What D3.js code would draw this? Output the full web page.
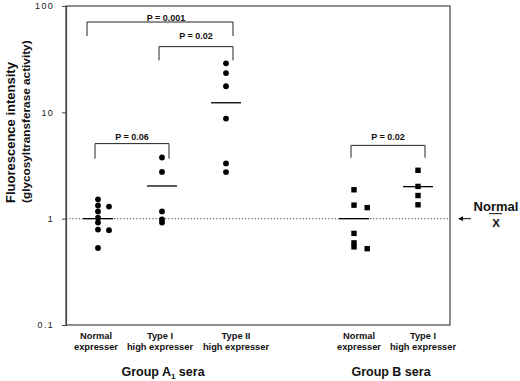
<!DOCTYPE html>
<html>
<head>
<meta charset="utf-8">
<script src="https://cdn.jsdelivr.net/npm/d3@7"></script>
<style>
  body { margin: 0; background: #fff; }
  svg { display: block; font-family: "Liberation Sans", Arial, sans-serif; }
</style>
</head>
<body>
<svg width="520" height="381"></svg>
<script>
// categories along the x axis (a blank slot separates the two groups)
const slots = ["A1-normal", "A1-typeI", "A1-typeII", "gap", "B-normal", "B-typeI"];
const categoryKeys = ["A1-normal", "A1-typeI", "A1-typeII", "B-normal", "B-typeI"];
const categoryLabels = [
    ["Normal", "expresser"],
    ["Type I", "high expresser"],
    ["Type II", "high expresser"],
    ["Normal", "expresser"],
    ["Type I", "high expresser"]
];
const markShape = ["circle", "circle", "circle", "square", "square"];

// fluorescence values, col = 0 main column, 1 = side column
const a1Normal = [
    { v: 1.52, col: 0 }, { v: 1.33, col: 0 }, { v: 1.17, col: 0 }, { v: 1.02, col: 0 },
    { v: 0.92, col: 0 }, { v: 0.79, col: 0 }, { v: 0.53, col: 0 },
    { v: 1.30, col: 1 }, { v: 0.78, col: 1 }
];
const a1TypeI = [
    { v: 3.76, col: 0 }, { v: 2.75, col: 0 }, { v: 1.17, col: 0 }, { v: 0.985, col: 0 }, { v: 0.92, col: 0 }
];
const a1TypeII = [
    { v: 28.9, col: 0 }, { v: 23.4, col: 0 }, { v: 17.6, col: 0 },
    { v: 8.73, col: 0 }, { v: 3.31, col: 0 }, { v: 2.74, col: 0 }
];
const bNormal = [
    { v: 1.87, col: 0 }, { v: 1.34, col: 0 }, { v: 0.727, col: 0 }, { v: 0.592, col: 0 }, { v: 0.543, col: 0 },
    { v: 1.27, col: 1 }, { v: 0.522, col: 1 }
];
const bTypeI = [
    { v: 2.85, col: 0 }, { v: 2.01, col: 0 }, { v: 1.65, col: 0 }, { v: 1.35, col: 0 }
];
const seriesValues = [a1Normal, a1TypeI, a1TypeII, bNormal, bTypeI];

// mean of each category (horizontal bar)
const means = [1.0, 2.03, 12.3, 1.0, 2.0];
const normalMean = 1;

// significance brackets
const brackets = [
    { from: 0, to: 2, top: 70.7, leg: 52.2, labelAt: 77.8, label: "P = 0.001" },
    { from: 1, to: 2, top: 41.5, leg: 30.8, labelAt: 52.2, label: "P = 0.02" },
    { from: 0, to: 1, top: 5.08, leg: 3.67, labelAt: 5.86, label: "P = 0.06" },
    { from: 3, to: 4, top: 4.89, leg: 3.75, labelAt: 5.91, label: "P = 0.02" }
];

const yTicks = [0.1, 1, 10, 100];
const groupLabels = [
    { text: "Group A", sub: "1", rest: " sera", cats: [0, 1, 2] },
    { text: "Group B sera", sub: "", rest: "", cats: [3, 4] }
];
const yTitle = ["Fluorescence intensity", "(glycosyltransferase activity)"];

drawChart();

function drawChart() {
    const margin = { top: 6, right: 70, bottom: 56, left: 66 };
    const width = 520, height = 381;
    const svg = d3.select("svg");

    const xBand = d3.scaleBand()
        .domain(slots)
        .range([margin.left, width - margin.right]);
    const xc = key => xBand(key) + xBand.bandwidth() / 2;

    const y = d3.scaleLog()
        .domain([0.1, 100])
        .range([height - margin.bottom, margin.top]);

    const x0 = margin.left, x1 = width - margin.right;
    const y0 = height - margin.bottom, y1 = margin.top;

    // frame
    svg.append("rect")
        .attr("x", x0).attr("y", y1)
        .attr("width", x1 - x0).attr("height", y0 - y1)
        .attr("fill", "none")
        .attr("stroke", "#444")
        .attr("stroke-width", 1.2);

    // y axis
    const yAxis = svg.append("g")
        .attr("transform", `translate(${x0},0)`)
        .call(d3.axisLeft(y).tickValues(yTicks).tickFormat(d => String(d)).tickSize(4).tickPadding(8));
    yAxis.select(".domain").attr("stroke", "#444").attr("stroke-width", 1.2);
    yAxis.selectAll(".tick line").attr("stroke", "#444");
    yAxis.selectAll("text")
        .attr("font-family", "'Liberation Sans', Arial, sans-serif")
        .style("font-size", "9px")
        .style("letter-spacing", "1.3px")
        .attr("fill", "#222");

    // dotted reference line at normal mean
    svg.append("line")
        .attr("x1", x0).attr("x2", x1)
        .attr("y1", y(normalMean)).attr("y2", y(normalMean))
        .attr("stroke", "#333")
        .attr("stroke-width", 0.9)
        .attr("stroke-dasharray", "1.2,2");

    // points
    const colGap = 11;
    categoryKeys.forEach((key, i) => {
        const cx = xc(key);
        const g = svg.append("g");
        if (markShape[i] === "circle") {
            g.selectAll("circle")
                .data(seriesValues[i])
                .enter()
                .append("circle")
                .attr("cx", d => cx + d.col * colGap)
                .attr("cy", d => y(d.v))
                .attr("r", 2.9)
                .attr("fill", "#000");
        } else {
            const s = 5.4;
            g.selectAll("rect")
                .data(seriesValues[i])
                .enter()
                .append("rect")
                .attr("x", d => cx + d.col * colGap * 1.2 - s / 2)
                .attr("y", d => y(d.v) - s / 2)
                .attr("width", s)
                .attr("height", s)
                .attr("fill", "#000");
        }

        // mean bar
        svg.append("line")
            .attr("x1", cx - 15).attr("x2", cx + 15)
            .attr("y1", y(means[i])).attr("y2", y(means[i]))
            .attr("stroke", "#000")
            .attr("stroke-width", 1.3);
    });

    // brackets
    brackets.forEach((b, i) => {
        const bx1 = xc(categoryKeys[b.from]) - (i === 0 ? 11 : 3);
        const bx2 = xc(categoryKeys[b.to]) + 7;
        svg.append("path")
            .attr("d", `M${bx1},${y(b.leg)}V${y(b.top)}H${bx2}V${y(b.leg)}`)
            .attr("fill", "none")
            .attr("stroke", "#222")
            .attr("stroke-width", 1);
        svg.append("text")
            .attr("x", (bx1 + bx2) / 2 + (i === 0 ? 6 : 0))
            .attr("y", y(b.labelAt))
            .attr("dy", "0.35em")
            .attr("text-anchor", "middle")
            .style("font-size", "9px")
            .style("font-weight", "bold")
            .attr("fill", "#111")
            .text(b.label);
    });

    // category labels
    const labelNudge = [-2, -2, 10, 5, 5];
    categoryKeys.forEach((key, i) => {
        const t = svg.append("text")
            .attr("x", xc(key) + labelNudge[i])
            .attr("y", y0 + 14)
            .attr("text-anchor", "middle")
            .style("font-size", "9.3px")
            .style("font-weight", "bold")
            .attr("fill", "#111");
        categoryLabels[i].forEach((line, j) => {
            t.append("tspan")
                .attr("x", xc(key) + labelNudge[i])
                .attr("dy", j === 0 ? 0 : 11)
                .text(line);
        });
    });

    // group labels
    groupLabels.forEach((gl, i) => {
        const cx = d3.mean(gl.cats, c => xc(categoryKeys[c])) + (i === 0 ? 1 : 5);
        const t = svg.append("text")
            .attr("x", cx)
            .attr("y", y0 + 51)
            .attr("text-anchor", "middle")
            .style("font-size", "12.5px")
            .style("font-weight", "bold")
            .attr("fill", "#111");
        t.append("tspan").text(gl.text);
        if (gl.sub) {
            t.append("tspan").attr("dy", 3).style("font-size", "8px").text(gl.sub);
            t.append("tspan").attr("dy", -3).text(gl.rest);
        }
    });

    // y axis title
    yTitle.forEach((line, i) => {
        svg.append("text")
            .attr("transform", `translate(${i === 0 ? 14.5 : 29.5},203) rotate(-90)`)
            .attr("text-anchor", "start")
            .style("font-size", i === 0 ? "13px" : "11.8px")
            .style("font-weight", "bold")
            .attr("fill", "#111")
            .text(line);
    });

    // "Normal X-bar" marker to the right
    const ym = y(normalMean);
    svg.append("line")
        .attr("x1", x1 + 21).attr("x2", x1 + 12)
        .attr("y1", ym).attr("y2", ym)
        .attr("stroke", "#111")
        .attr("stroke-width", 1);
    svg.append("path")
        .attr("d", `M${x1 + 8},${ym}L${x1 + 13},${ym - 2.5}L${x1 + 13},${ym + 2.5}Z`)
        .attr("fill", "#111");
    svg.append("text")
        .attr("x", x1 + 46).attr("y", ym - 8)
        .attr("text-anchor", "middle")
        .style("font-size", "13px")
        .style("font-weight", "bold")
        .attr("fill", "#111")
        .text("Normal");
    svg.append("line")
        .attr("x1", x1 + 39).attr("x2", x1 + 52)
        .attr("y1", ym - 5).attr("y2", ym - 5)
        .attr("stroke", "#111")
        .attr("stroke-width", 1);
    svg.append("text")
        .attr("x", x1 + 46).attr("y", ym + 8)
        .attr("text-anchor", "middle")
        .style("font-size", "11.5px")
        .style("font-weight", "bold")
        .attr("fill", "#111")
        .text("X");
}
</script>
</body>
</html>
